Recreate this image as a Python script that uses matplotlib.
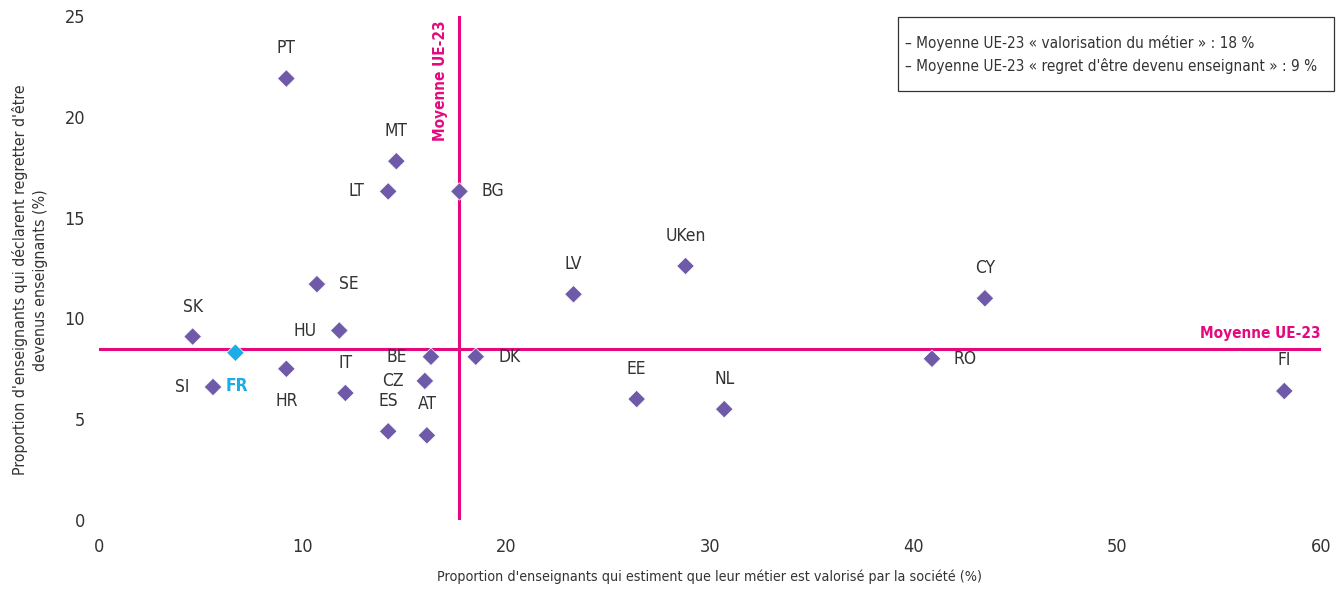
import matplotlib
matplotlib.use("Agg")
import matplotlib.pyplot as plt
from matplotlib.patches import Rectangle

# données
pays = ["PT", "MT", "LT", "BG", "LV", "UKen", "CY", "SK", "SE", "HU", "FR", "SI",
        "HR", "IT", "BE", "CZ", "ES", "AT", "DK", "EE", "NL", "RO", "FI"]
valorise = [9.2, 14.6, 14.2, 17.7, 23.3, 28.8, 43.5, 4.6, 10.7, 11.8, 6.7, 5.6,
            9.2, 12.1, 16.3, 16.0, 14.2, 16.1, 18.5, 26.4, 30.7, 40.9, 58.2]
regret = [21.9, 17.8, 16.3, 16.3, 11.2, 12.6, 11.0, 9.1, 11.7, 9.4, 8.3, 6.6,
          7.5, 6.3, 8.1, 6.9, 4.4, 4.2, 8.1, 6.0, 5.5, 8.0, 6.4]
moy_x = 17.7
moy_y = 8.5
x_ticks = [0, 10, 20, 30, 40, 50, 60]
y_ticks = [0, 5, 10, 15, 20, 25]

# position de l'étiquette par rapport au point (pixels)
decal = {"PT": (0, 31), "MT": (0, 30), "LT": (-32, 0), "BG": (33, 0), "LV": (0, 30),
         "UKen": (0, 30), "CY": (0, 30), "SK": (0, 30), "SE": (32, 0), "HU": (-34, 0),
         "FR": (1, -33), "SI": (-31, 0), "HR": (0, -32), "IT": (0, 30), "BE": (-34, 0),
         "CZ": (-32, 0), "ES": (0, 30), "AT": (0, 31), "DK": (34, 0), "EE": (0, 30),
         "NL": (0, 30), "RO": (33, 0), "FI": (0, 31)}

plt.rcParams['font.family'] = ['DejaVu Sans']
plt.rcParams['font.stretch'] = 'condensed'
violet = "#6E5AA8"
bleu = "#1BADE6"
rose = "#E5097F"
gris = "#333333"

fig = plt.figure(figsize=(13.43, 5.89), dpi=100)
ax = fig.add_axes([0.0737, 0.1171, 0.9099, 0.8557])

ax.axvline(moy_x, color=rose, lw=2.2, zorder=1)
ax.axhline(moy_y, color=rose, lw=2.2, zorder=1)

couleurs = [bleu if p == "FR" else violet for p in pays]
ax.scatter(valorise, regret, marker="D", s=80, c=couleurs, edgecolors="white",
           linewidths=0.5, zorder=3)

for p, x, y in zip(pays, valorise, regret):
    dx, dy = decal[p]
    if p == "FR":
        ax.annotate(p, (x, y), xytext=(dx * 0.72, dy * 0.72), textcoords="offset points",
                    ha="center", va="center", fontsize=12.5, color=bleu, fontweight="bold")
    else:
        ax.annotate(p, (x, y), xytext=(dx * 0.72, dy * 0.72), textcoords="offset points",
                    ha="center", va="center", fontsize=12.5, color=gris)

ax.text(moy_x - 0.95, 24.8, "Moyenne UE-23", rotation=90, ha="center", va="top",
        color=rose, fontsize=11, fontweight="bold")
ax.text(60, moy_y + 0.4, "Moyenne UE-23", ha="right", va="bottom",
        color=rose, fontsize=11, fontweight="bold")

ax.set_xlim(0, 60)
ax.set_ylim(0, 25)
ax.set_xticks(x_ticks)
ax.set_yticks(y_ticks)
ax.tick_params(length=0, labelsize=13, labelcolor=gris, pad=13)
ax.tick_params(axis="y", pad=10)
for s in ax.spines.values():
    s.set_visible(False)

ax.set_xlabel("Proportion d'enseignants qui estiment que leur métier est valorisé par la société (%)",
              fontsize=10.3, color=gris, labelpad=10)
ax.set_ylabel("Proportion d'enseignants qui déclarent regretter d'être\ndevenus enseignants (%)",
              fontsize=11.4, color=gris, linespacing=1.45)
ax.yaxis.set_label_coords(-0.0417, 0.476)

# encadré des moyennes
fig.patches.append(Rectangle((898 / 1343, 1 - 91 / 589), 436 / 1343, 74 / 589,
                             transform=fig.transFigure, fill=False, ec="#333333", lw=0.9))
fig.text(905 / 1343, 1 - 43 / 589, "– Moyenne UE-23 « valorisation du métier » : 18 %",
         fontsize=11, color=gris, va="center")
fig.text(905 / 1343, 1 - 66 / 589, "– Moyenne UE-23 « regret d'être devenu enseignant » : 9 %",
         fontsize=11, color=gris, va="center")

fig.savefig("out.png", dpi=100)
